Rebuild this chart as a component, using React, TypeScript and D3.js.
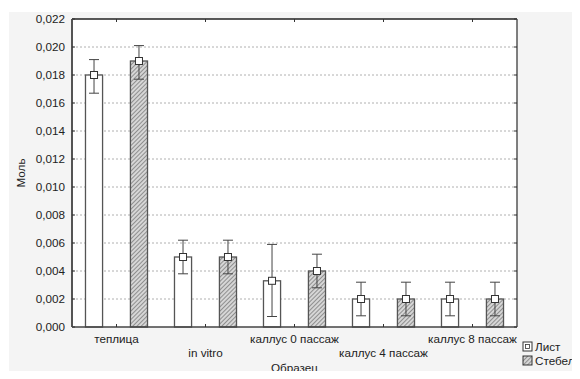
import React from "react";
import * as d3 from "d3";

const categories = ["теплица", "in vitro", "каллус 0 пассаж", "каллус 4 пассаж", "каллус 8 пассаж"];
const seriesNames = ["Лист", "Стебель"];
const leafMean = [0.018, 0.005, 0.0033, 0.002, 0.002];
const leafLow = [0.0167, 0.0038, 0.00075, 0.0008, 0.0008];
const leafHigh = [0.0191, 0.0062, 0.0059, 0.0032, 0.0032];
const stemMean = [0.019, 0.005, 0.004, 0.002, 0.002];
const stemLow = [0.0177, 0.0038, 0.0028, 0.0008, 0.0008];
const stemHigh = [0.0201, 0.0062, 0.0052, 0.0032, 0.0032];
const yTicks = [0, 0.002, 0.004, 0.006, 0.008, 0.01, 0.012, 0.014, 0.016, 0.018, 0.02, 0.022];

const W = 580;
const H = 379;
const left = 72;
const right = 517;
const top = 19;
const bottom = 327;
const font = "'Liberation Sans', Arial, sans-serif";
const fs = 11.7;

export default function App() {
  const x = d3.scaleBand().domain(categories).range([left, right]);
  const sub = d3.scaleBand().domain(seriesNames).range([0, x.bandwidth()]).paddingInner(0.62).paddingOuter(0.3);
  const y = d3.scaleLinear().domain([0, 0.022]).range([bottom, top]);
  const fmt = (v: number) => d3.format(".3f")(v).replace(".", ",");

  const series = [
    { name: "Лист", mean: leafMean, low: leafLow, high: leafHigh, fill: "#ffffff" },
    { name: "Стебель", mean: stemMean, low: stemLow, high: stemHigh, fill: "url(#hatch)" },
  ];

  return (
    <div style={{ margin: -8 }}>
      <svg width={W} height={H} style={{ display: "block" }} fontFamily={font}>
        <defs>
          <pattern id="hatch" patternUnits="userSpaceOnUse" width={3} height={3} patternTransform="rotate(45)">
            <rect width={3} height={3} fill="#d6d6d6" />
            <line x1={0} y1={0} x2={0} y2={3} stroke="#5f5f5f" strokeWidth={1.2} />
          </pattern>
        </defs>
        <rect width={W} height={H} fill="#ffffff" />
        <rect x={9} y={12} width={W - 9} height={H - 12} fill="#f4f4f4" />
        <rect x={left} y={top} width={right - left} height={bottom - top} fill="#ffffff" />

        {yTicks.slice(1, -1).map((t) => (
          <line key={"g" + t} x1={left} x2={right} y1={y(t)} y2={y(t)} stroke="#b0b0b0" strokeWidth={1} strokeDasharray="2,2" />
        ))}

        {series.map((s) =>
          categories.map((c, i) => {
            const bx = (x(c) as number) + (sub(s.name) as number);
            const bw = sub.bandwidth();
            const cx = bx + bw / 2;
            return (
              <g key={s.name + c}>
                <rect x={bx} y={y(s.mean[i])} width={bw} height={bottom - y(s.mean[i])} fill={s.fill} stroke="#555" strokeWidth={1.3} />
                <line x1={cx} x2={cx} y1={y(s.low[i])} y2={y(s.high[i])} stroke="#444" strokeWidth={1} />
                <line x1={cx - 5} x2={cx + 5} y1={y(s.high[i])} y2={y(s.high[i])} stroke="#444" strokeWidth={1} />
                <line x1={cx - 5} x2={cx + 5} y1={y(s.low[i])} y2={y(s.low[i])} stroke="#444" strokeWidth={1} />
                <rect x={cx - 3.5} y={y(s.mean[i]) - 3.5} width={7} height={7} fill="#ffffff" stroke="#333" strokeWidth={1} />
              </g>
            );
          })
        )}

        <line x1={left} x2={right} y1={top} y2={top} stroke="#222" strokeWidth={1.3} />
        <line x1={right} x2={right} y1={top} y2={bottom} stroke="#555" strokeWidth={1.5} />
        <line x1={left} x2={right} y1={bottom} y2={bottom} stroke="#444" strokeWidth={1.5} />
        <line x1={left} x2={left} y1={top} y2={bottom} stroke="#555" strokeWidth={2} />

        {yTicks.map((t) => (
          <g key={"t" + t}>
            <line x1={left} x2={left + 3} y1={y(t)} y2={y(t)} stroke="#333" />
            <line x1={right - 3} x2={right} y1={y(t)} y2={y(t)} stroke="#333" />
            <text x={left - 7} y={y(t)} dy="0.35em" textAnchor="end" fontSize={fs} fill="#222">
              {fmt(t)}
            </text>
          </g>
        ))}

        {categories.map((c, i) => {
          const cx = (x(c) as number) + x.bandwidth() / 2;
          return (
            <g key={"c" + c}>
              <line x1={cx} x2={cx} y1={top} y2={top + 3} stroke="#333" />
              <line x1={cx} x2={cx} y1={bottom - 3} y2={bottom} stroke="#333" />
              <text x={cx} y={i % 2 === 0 ? 343 : 357} textAnchor="middle" fontSize={fs} fill="#222">
                {c}
              </text>
            </g>
          );
        })}

        <text x={(left + right) / 2} y={372} textAnchor="middle" fontSize={fs} fill="#222">
          Образец
        </text>
        <text transform={`translate(25,${(top + bottom) / 2}) rotate(-90)`} textAnchor="middle" fontSize={fs} fill="#222">
          Моль
        </text>

        {series.map((s, i) => (
          <g key={"l" + s.name} transform={`translate(523,${342 + i * 14})`}>
            <rect x={0} y={0} width={9} height={9} fill={s.fill} stroke="#333" strokeWidth={1} />
            {i === 0 && <rect x={2.5} y={2.5} width={4} height={4} fill="none" stroke="#333" strokeWidth={0.8} />}
            <text x={12} y={9} fontSize={fs} fill="#222">
              {s.name}
            </text>
          </g>
        ))}
      </svg>
    </div>
  );
}
